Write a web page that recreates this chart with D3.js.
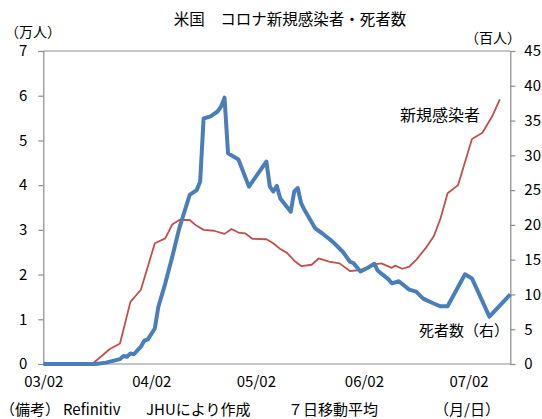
<!DOCTYPE html>
<html>
<head>
<meta charset="utf-8">
<script src="https://cdn.jsdelivr.net/npm/d3@7/dist/d3.min.js"></script>
<style>
  html, body { margin: 0; padding: 0; background: #fff; }
  svg text { font-family: "Noto Sans CJK JP", "Noto Sans", sans-serif; fill: #000; }
</style>
</head>
<body>
<svg id="chart" width="542" height="419"></svg>
<script>
// ---- Data ----
// New infections, 7-day average, unit: 10,000 people (left axis)
const infDates = ["2020-03-02","2020-03-16","2020-03-18","2020-03-21","2020-03-24","2020-03-27","2020-03-30","2020-04-03","2020-04-06","2020-04-08","2020-04-10","2020-04-13","2020-04-15","2020-04-17","2020-04-20","2020-04-23","2020-04-25","2020-04-27","2020-04-29","2020-05-01","2020-05-05","2020-05-07","2020-05-09","2020-05-11","2020-05-13","2020-05-15","2020-05-18","2020-05-20","2020-05-23","2020-05-26","2020-05-29","2020-06-01","2020-06-05","2020-06-07","2020-06-10","2020-06-11","2020-06-13","2020-06-15","2020-06-17","2020-06-20","2020-06-22","2020-06-24","2020-06-26","2020-06-29","2020-07-03","2020-07-06","2020-07-09","2020-07-11"];
const infValues = [0,0,0.13,0.33,0.46,1.39,1.66,2.70,2.81,3.12,3.22,3.22,3.09,3.0,2.98,2.91,3.02,2.94,2.92,2.80,2.79,2.70,2.57,2.48,2.31,2.19,2.22,2.36,2.29,2.25,2.08,2.10,2.23,2.25,2.15,2.2,2.13,2.18,2.33,2.62,2.85,3.26,3.82,4.0,5.03,5.17,5.57,5.92];

// Deaths, 7-day average, unit: 100 people (right axis)
const deathDates = ["2020-03-02","2020-03-17","2020-03-20","2020-03-24","2020-03-25","2020-03-26","2020-03-27","2020-03-28","2020-03-30","2020-03-31","2020-04-01","2020-04-03","2020-04-04","2020-04-06","2020-04-08","2020-04-10","2020-04-13","2020-04-15","2020-04-16","2020-04-17","2020-04-19","2020-04-21","2020-04-22","2020-04-23","2020-04-24","2020-04-27","2020-04-30","2020-05-05","2020-05-06","2020-05-07","2020-05-08","2020-05-09","2020-05-12","2020-05-13","2020-05-14","2020-05-15","2020-05-16","2020-05-19","2020-05-21","2020-05-24","2020-05-26","2020-05-27","2020-05-29","2020-05-30","2020-06-01","2020-06-03","2020-06-05","2020-06-06","2020-06-07","2020-06-09","2020-06-10","2020-06-12","2020-06-15","2020-06-17","2020-06-19","2020-06-22","2020-06-24","2020-06-26","2020-07-01","2020-07-03","2020-07-08","2020-07-14"];
const deathValues = [0,0,0.2,0.7,1.15,1.05,1.5,1.4,2.5,3.35,3.55,5.1,8.2,11.6,15.4,19.5,24.3,25.0,26.2,35.3,35.6,36.3,37.0,38.3,30.3,29.4,25.5,29.1,25.5,24.8,25.6,23.8,21.9,24.8,25.3,23.1,22.1,19.5,18.8,17.6,16.6,16.1,14.7,14.5,13.3,13.8,14.4,13.4,13.0,12.2,11.6,11.9,10.7,10.4,9.4,8.7,8.3,8.3,12.9,12.3,6.8,10.0];

// Axes
const xDomain = ["2020-03-02","2020-07-14"];
const xTickDates = ["2020-03-02","2020-04-02","2020-05-02","2020-06-02","2020-07-02"];
const leftTicks = [0,1,2,3,4,5,6,7];
const rightTicks = [0,5,10,15,20,25,30,35,40,45];

// Texts
const titleText = "米国　コロナ新規感染者・死者数";
const leftUnit = "（万人）";
const rightUnit = "（百人）";
const infLabel = "新規感染者";
const deathLabel = "死者数（右）";
const footerParts = ["（備考）", "Refinitiv", "JHUにより作成", "７日移動平均", "（月/日）"];

// ---- Drawing ----
const parse = d3.timeParse("%Y-%m-%d");
const fmt = d3.timeFormat("%m/%d");
const svg = d3.select("#chart");

const L = 43.3, R = 510.3, T = 51, B = 364;
const x = d3.scaleTime().domain(xDomain.map(parse)).range([L, R]);
const yL = d3.scaleLinear().domain([0, 7]).range([B, T]);
const yR = d3.scaleLinear().domain([0, 45]).range([B, T]);

const axisColor = "#8c8c8c";

// Frame
svg.append("line").attr("x1", L).attr("x2", R).attr("y1", T).attr("y2", T)
  .attr("stroke", axisColor).attr("stroke-width", 1.2);
svg.append("line").attr("x1", L).attr("x2", R).attr("y1", B).attr("y2", B)
  .attr("stroke", axisColor).attr("stroke-width", 1.2);

// Left axis
const gL = svg.append("g").attr("transform", `translate(${L},0)`)
  .call(d3.axisLeft(yL).tickValues(leftTicks).tickSize(5).tickPadding(11).tickFormat(d3.format("d")));
// Right axis
const gR = svg.append("g").attr("transform", `translate(${R},0)`)
  .call(d3.axisRight(yR).tickValues(rightTicks).tickSize(5).tickPadding(9).tickFormat(d3.format("d")));
// Bottom axis (labels only)
const gB = svg.append("g").attr("transform", `translate(0,${B})`)
  .call(d3.axisBottom(x).tickValues(xTickDates.map(parse)).tickSize(0).tickPadding(12).tickFormat(fmt));

[gL, gR, gB].forEach(g => {
  g.selectAll(".domain").attr("stroke", axisColor).attr("stroke-width", 1.2);
  g.selectAll(".tick line").attr("stroke", axisColor).attr("stroke-width", 1.2);
  g.selectAll("text").attr("font-size", 15).attr("font-family", "\"Noto Sans CJK JP\", sans-serif").attr("fill", "#000");
});
gB.select(".domain").remove();

// Lines
const infData = infDates.map((d, i) => ({ date: parse(d), v: infValues[i] }));
const deathData = deathDates.map((d, i) => ({ date: parse(d), v: deathValues[i] }));

svg.append("path").datum(infData)
  .attr("fill", "none").attr("stroke", "#c0504d").attr("stroke-width", 1.8)
  .attr("stroke-linejoin", "round")
  .attr("d", d3.line().x(d => x(d.date)).y(d => yL(d.v)));

svg.append("path").datum(deathData)
  .attr("fill", "none").attr("stroke", "#4a7ebb").attr("stroke-width", 4)
  .attr("stroke-linejoin", "round")
  .attr("d", d3.line().x(d => x(d.date)).y(d => yR(d.v)));

// Title & units
svg.append("text").attr("x", 290).attr("y", 25).attr("text-anchor", "middle")
  .attr("font-size", 15.5).text(titleText);
svg.append("text").attr("x", 5).attr("y", 37).attr("font-size", 14).text(leftUnit);
svg.append("text").attr("x", 465).attr("y", 43).attr("font-size", 14).text(rightUnit);

// Series labels
svg.append("text").attr("x", 400).attr("y", 121).attr("font-size", 16).text(infLabel);
svg.append("text").attr("x", 419).attr("y", 336).attr("font-size", 15).text(deathLabel);

// Footer
const footerX = [0, 63, 146, 288, 434];
footerParts.forEach((t, i) => {
  svg.append("text").attr("x", footerX[i]).attr("y", 415).attr("font-size", 15).text(t);
});
</script>
</body>
</html>
